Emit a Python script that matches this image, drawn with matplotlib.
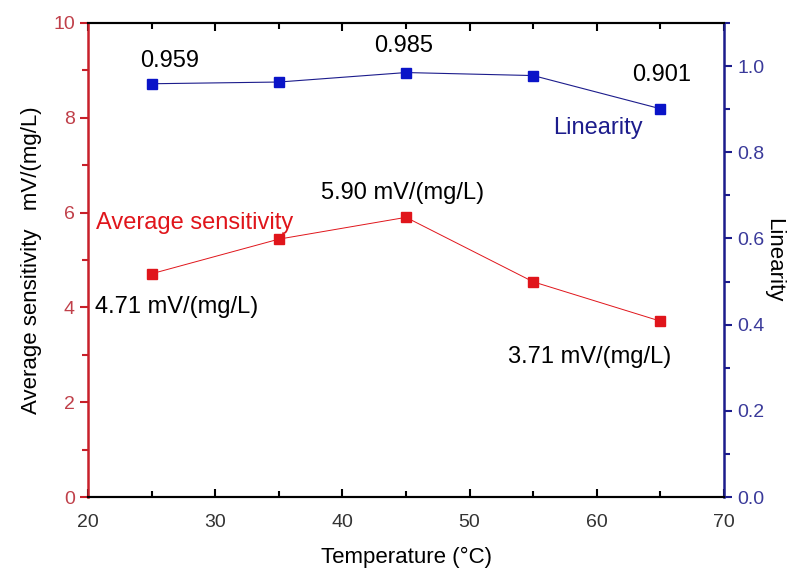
import matplotlib.pyplot as plt
from matplotlib.ticker import MultipleLocator

plt.rcParams['font.family'] = ['Liberation Sans', 'DejaVu Sans']

temperature = [25, 35, 45, 55, 65]
sensitivity = [4.71, 5.44, 5.90, 4.54, 3.71]
linearity = [0.959, 0.963, 0.985, 0.978, 0.901]

red = '#e0151b'
red_axis = '#c8202a'
red_tick = '#c0404a'
blue = '#0a14c8'
navy = '#1c1c8c'
navy_tick = '#3a3a9a'

fig = plt.figure(figsize=(7.95, 5.72), dpi=100)
ax = fig.add_axes([0.1107, 0.1311, 0.80, 0.8287])
ax2 = ax.twinx()

ax.plot(temperature, sensitivity, color=red, lw=0.7, marker='s', ms=7,
        mfc=red, mec=red)
ax2.plot(temperature, linearity, color=navy, lw=0.8, marker='s', ms=7,
         mfc=blue, mec=blue)

ax.set_xlim(20, 70)
ax.set_ylim(0, 10)
ax2.set_ylim(0, 1.1)

ax.xaxis.set_major_locator(MultipleLocator(10))
ax.xaxis.set_minor_locator(MultipleLocator(5))
ax.yaxis.set_major_locator(MultipleLocator(2))
ax.yaxis.set_minor_locator(MultipleLocator(1))
ax2.yaxis.set_major_locator(MultipleLocator(0.2))
ax2.yaxis.set_minor_locator(MultipleLocator(0.1))
ax2.yaxis.set_major_formatter(plt.FormatStrFormatter('%.1f'))

# spines
for a in (ax, ax2):
    a.spines['top'].set_linewidth(1.5)
    a.spines['bottom'].set_linewidth(1.5)
ax.spines['left'].set_color(red_axis)
ax.spines['left'].set_linewidth(1.8)
ax2.spines['right'].set_color(navy)
ax2.spines['right'].set_linewidth(1.8)
ax2.spines['left'].set_visible(False)
ax.spines['right'].set_visible(False)

ax.tick_params(axis='x', which='both', direction='in', top=True,
               labelsize=14, width=1.5, pad=12, labelcolor='#333333')
ax.tick_params(axis='x', which='major', length=6)
ax.tick_params(axis='x', which='minor', length=4)
ax.tick_params(axis='y', which='both', direction='out', colors=red_axis,
               labelcolor=red_tick, labelsize=14, width=1.5)
ax.tick_params(axis='y', which='major', length=6)
ax.tick_params(axis='y', which='minor', length=4)
ax2.tick_params(axis='y', which='both', direction='out', colors=navy,
                labelcolor=navy_tick, labelsize=14, width=1.5)
ax2.tick_params(axis='y', which='major', length=6)
ax2.tick_params(axis='y', which='minor', length=4)

ax.set_xlabel('Temperature (\u00b0C)', fontsize=16, labelpad=12)
ax.set_ylabel('Average sensitivity   mV/(mg/L)', fontsize=16, labelpad=8)
ax2.set_ylabel('Linearity', fontsize=16, rotation=-90, labelpad=14)

# annotations
ax2.text(26.45, 1.012, '%.3f' % linearity[0], fontsize=17,
         ha='center', va='center')
ax2.text(44.84, 1.046, '%.3f' % linearity[2], fontsize=17,
         ha='center', va='center')
ax2.text(65.1, 0.979, '%.3f' % linearity[4], fontsize=17,
         ha='center', va='center')
ax2.text(60.1, 0.856, 'Linearity', fontsize=17, color=navy,
         ha='center', va='center')

ax.text(44.76, 6.41, '%.2f mV/(mg/L)' % sensitivity[2], fontsize=17,
        ha='center', va='center')
ax.text(28.41, 5.78, 'Average sensitivity', fontsize=17, color=red,
        ha='center', va='center')
ax.text(27.0, 4.01, '%.2f mV/(mg/L)' % sensitivity[0], fontsize=17,
        ha='center', va='center')
ax.text(59.4, 2.95, '%.2f mV/(mg/L)' % sensitivity[4], fontsize=17,
        ha='center', va='center')

fig.savefig('out.png', dpi=100)
